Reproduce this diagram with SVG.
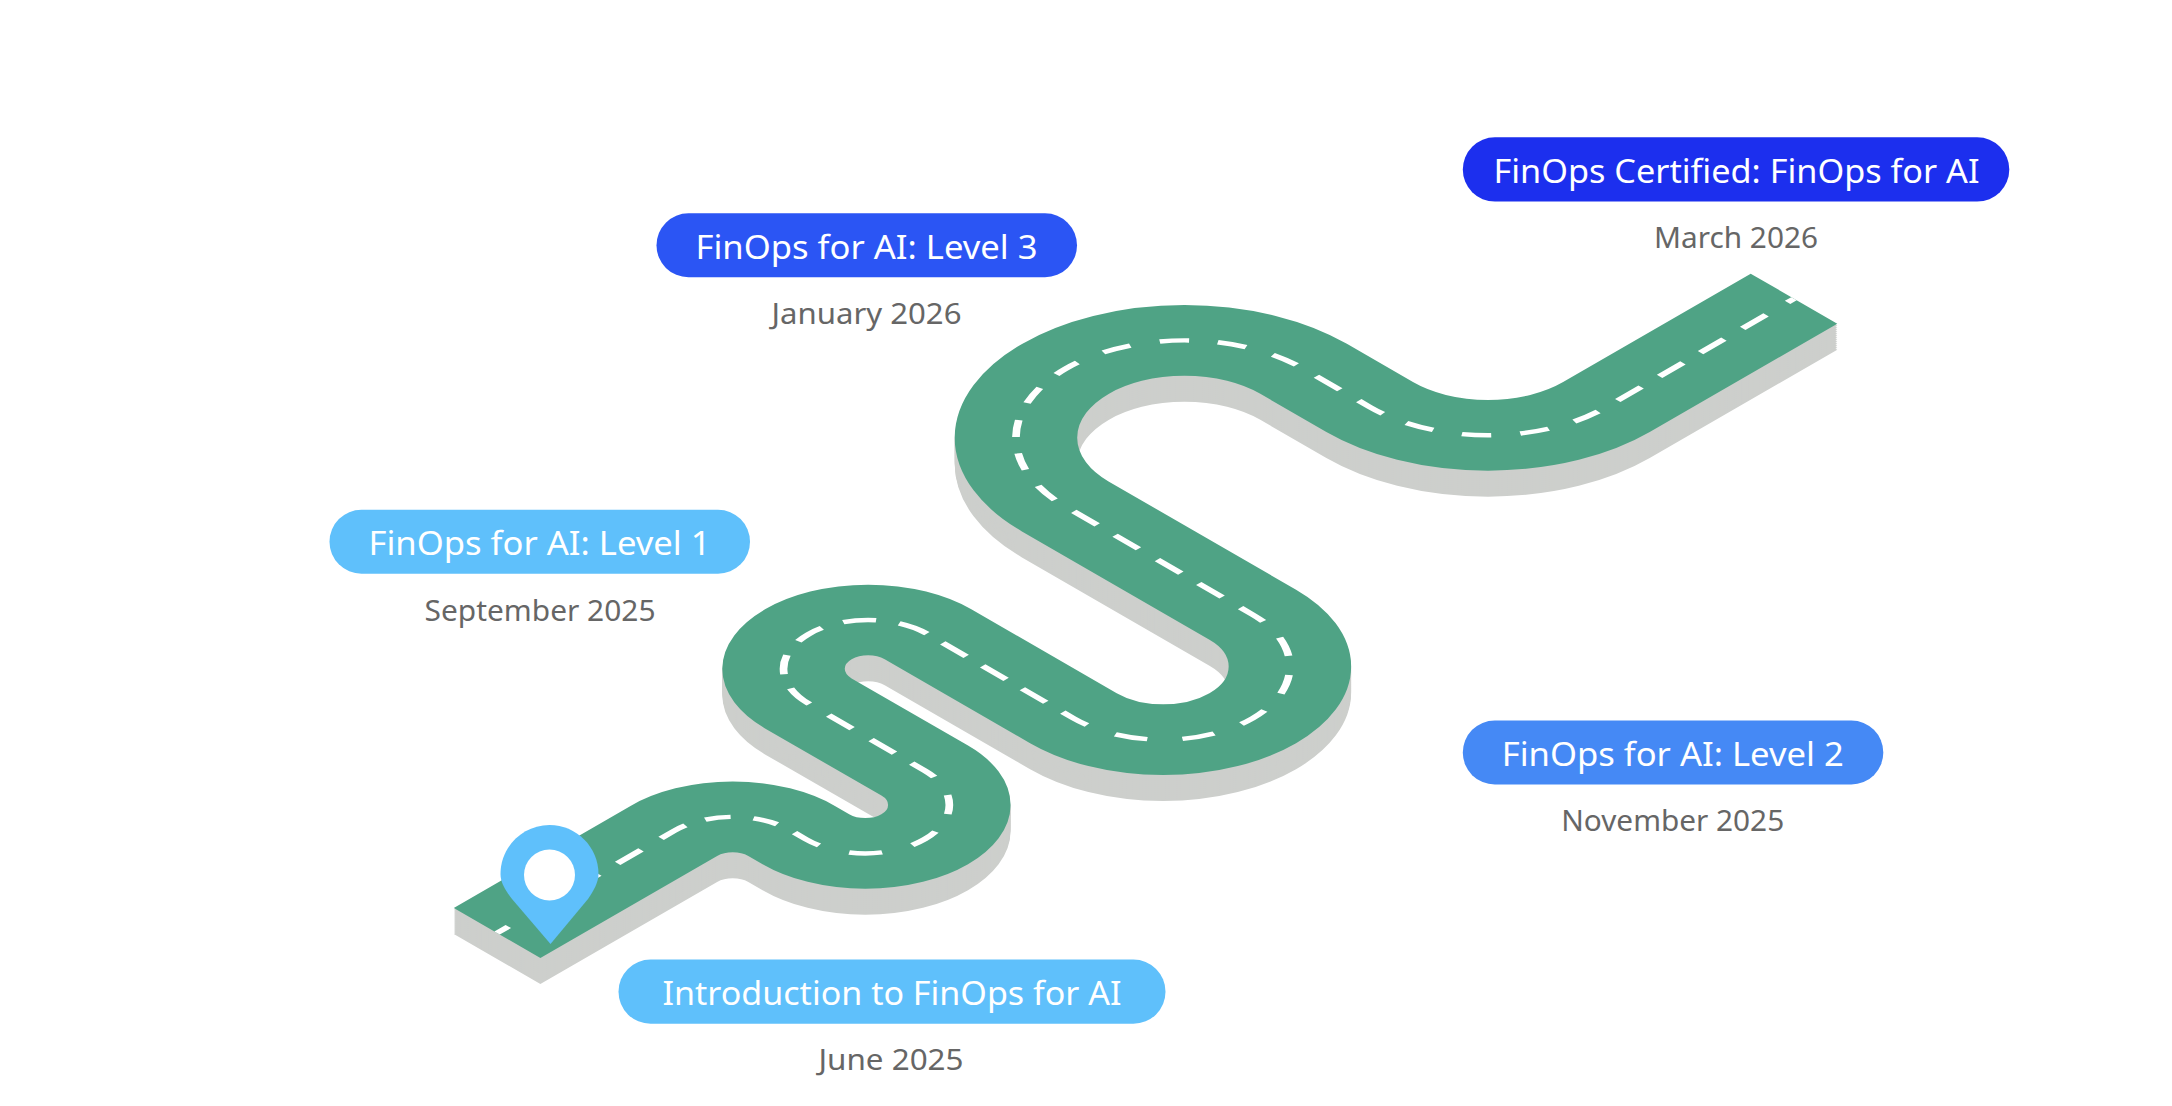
<svg xmlns="http://www.w3.org/2000/svg" width="2172" height="1106" viewBox="0 0 2172 1106">
<style>
.pill-text{font-family:"Noto Sans","Open Sans",sans-serif;font-size:32px;fill:#fff;text-anchor:middle}
.date{font-family:"Noto Sans","Open Sans",sans-serif;font-size:29px;fill:#666;text-anchor:middle}
.side{fill:none;stroke:#cdcfcc;stroke-width:100}
.top{fill:none;stroke:#4fa385;stroke-width:100}
.dash{fill:none;stroke:#fff;stroke-width:6.3;stroke-dasharray:13 28.5 27 22 27 21.7 27 23.2 27 18.3 21 18.8 21 18.6 27 26.7 27 26.9 27 26.9 27 27.8 27 19.9 27 22 27 22.3 27 20.9 27 21.9 27 19.4 27 19.4 27 18.4 27 19.1 27 18.8 27 19.7 27 26.6 27 28.7 27 26 27 27.5 27 27.2 27 26.3 27 21.3 27 20.7 27 21.9 27 20.7 27 22.5 24 25 24 23.3 24 25 24 23.3 24 25.7 24 24.8 24 23.6 24 24.5 24 22.9 27 21.9 27 23.3 24 24.2 24 23.9 24 23.5 24 22.4 27 21.3 27 20.3 27 21.7 27 24.8 9 200}
</style>
<defs>
<path id="r" d="M-646,1220 L-441.9,1220 A68,68 0 0 1 -373.9,1288 L-373.9,1304.5 A68.6,68.6 0 0 0 -236.7,1304.5 L-236.7,1170.1 A69.1,69.1 0 0 1 -98.5,1170.1 L-98.5,1338 A103.55,103.55 0 0 0 108.6,1338 L108.6,1121.5 A137.6,137.6 0 0 1 383.8,1121.5 L383.8,1197.8 A136.7,136.7 0 0 0 520.5,1334.5 L737.1,1334.5"/>
<g id="s" transform="matrix(.866,-.5,.866,.5,0,0)"><use href="#r" class="side"/></g>
</defs>
<rect width="2172" height="1106" fill="#fff"/>
<g id="road">
<use href="#s" y="26"/><use href="#s" y="24"/><use href="#s" y="22"/><use href="#s" y="20"/><use href="#s" y="18"/><use href="#s" y="16"/><use href="#s" y="14"/><use href="#s" y="12"/><use href="#s" y="10"/><use href="#s" y="8"/><use href="#s" y="6"/><use href="#s" y="4"/><use href="#s" y="2"/>
<g transform="matrix(.866,-.5,.866,.5,0,0)">
<use href="#r" class="top"/>
<use href="#r" class="dash"/>
</g>
</g>
<g id="pin">
<path d="M550.5,944 L512,899 C505,890 500.500,882 500.500,874 C500.500,847 522.500,825 549.500,825 C576.500,825 598.500,847 598.500,874 C598.500,882 594,890 588,899 Z" fill="#5fc0fb"/>
<circle cx="549.500" cy="875" r="25.500" fill="#fff"/>
</g>
<g id="intro" transform="translate(0,-1.2)">
<rect x="618.500" y="960.700" width="547" height="64.300" rx="32.150" fill="#5fc0fb"/>
<text class="pill-text" x="892" y="1006" textLength="459" lengthAdjust="spacingAndGlyphs">Introduction to FinOps for AI</text>
<text class="date" x="891" y="1071.700" textLength="145" lengthAdjust="spacingAndGlyphs">June 2025</text>
</g>
<g id="level1">
<rect x="329.500" y="509.700" width="420.500" height="64" rx="32" fill="#5fc0fb"/>
<text class="pill-text" x="539.500" y="555" textLength="342" lengthAdjust="spacingAndGlyphs">FinOps for AI: Level 1</text>
<text class="date" x="540" y="620.700" textLength="231" lengthAdjust="spacingAndGlyphs">September 2025</text>
</g>
<g id="level2" transform="translate(0,-1.2)">
<rect x="1462.800" y="721.700" width="420.500" height="64" rx="32" fill="#4589f5"/>
<text class="pill-text" x="1672.700" y="767" textLength="342" lengthAdjust="spacingAndGlyphs">FinOps for AI: Level 2</text>
<text class="date" x="1672.700" y="832.700" textLength="223" lengthAdjust="spacingAndGlyphs">November 2025</text>
</g>
<g id="level3">
<rect x="656.500" y="213.300" width="420.500" height="64" rx="32" fill="#2b55f4"/>
<text class="pill-text" x="866.500" y="258.700" textLength="342" lengthAdjust="spacingAndGlyphs">FinOps for AI: Level 3</text>
<text class="date" x="866.500" y="324.300" textLength="190" lengthAdjust="spacingAndGlyphs">January 2026</text>
</g>
<g id="certified">
<rect x="1462.800" y="137.300" width="546.500" height="64.300" rx="32.150" fill="#1c2fee"/>
<text class="pill-text" x="1736.500" y="182.700" textLength="486" lengthAdjust="spacingAndGlyphs">FinOps Certified: FinOps for AI</text>
<text class="date" x="1736" y="248.300" textLength="164" lengthAdjust="spacingAndGlyphs">March 2026</text>
</g>
</svg>
